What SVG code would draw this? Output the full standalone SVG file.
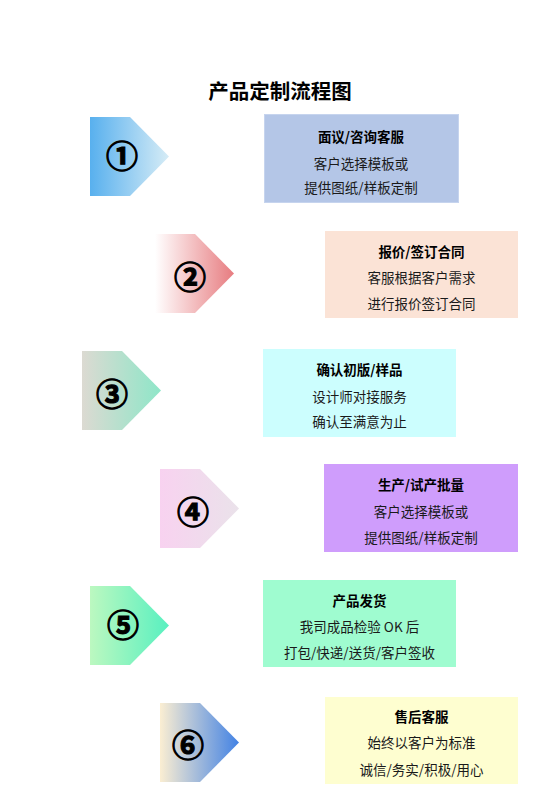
<svg xmlns="http://www.w3.org/2000/svg" width="560" height="792" viewBox="0 0 560 792">
<style>
text{font-family:"Noto Sans CJK SC","Liberation Sans",sans-serif;fill:#1a1a1a;text-anchor:middle}
.title{font-size:20.5px;font-weight:bold;fill:#000}
.h{font-size:13.5px;font-weight:bold;fill:#000}
.t{font-size:13.5px}
.num{font-size:32px;font-weight:bold;fill:#000;stroke:#000;stroke-width:1.1px}
.box{stroke-width:1}
</style>
<defs>
<linearGradient id="g1"><stop offset="0" stop-color="#58b0ee"/><stop offset="1" stop-color="#d6ecf6"/></linearGradient>
<linearGradient id="g2"><stop offset="0" stop-color="#ffffff"/><stop offset="1" stop-color="#e77c80"/></linearGradient>
<linearGradient id="g3"><stop offset="0" stop-color="#dcdad2"/><stop offset="1" stop-color="#8ee6c8"/></linearGradient>
<linearGradient id="g4"><stop offset="0" stop-color="#f8d2f0"/><stop offset="1" stop-color="#eae2ea"/></linearGradient>
<linearGradient id="g5"><stop offset="0" stop-color="#bcf8c0"/><stop offset="1" stop-color="#58f0c0"/></linearGradient>
<linearGradient id="g6"><stop offset="0" stop-color="#fbeed2"/><stop offset="1" stop-color="#4282e4"/></linearGradient>
</defs>
<rect width="560" height="792" fill="#fff"/>
<text class="title" x="280" y="99">产品定制流程图</text>

<g id="step1">
<polygon points="90,117 130,117 169,156.5 130,196 90,196" fill="url(#g1)"/>
<text class="num" x="122" y="167.5">①</text>
<rect class="box" x="264.5" y="114.5" width="194" height="88" fill="#b4c6e7" stroke="#c6d4ee"/>
<text class="h" x="361" y="141.5">面议/咨询客服</text>
<text class="t" x="361" y="168.5">客户选择模板或</text>
<text class="t" x="361" y="192.5">提供图纸/样板定制</text>
</g>

<g id="step2">
<polygon points="155,234 195,234 234,273.5 195,313 155,313" fill="url(#g2)"/>
<text class="num" x="190" y="288.5">②</text>
<rect class="box" x="325" y="231" width="193" height="87" fill="#fbe3d6"/>
<text class="h" x="421.5" y="256.5">报价/签订合同</text>
<text class="t" x="421.5" y="282.5">客服根据客户需求</text>
<text class="t" x="421.5" y="308.5">进行报价签订合同</text>
</g>

<g id="step3">
<polygon points="82,351 122,351 161,390.5 122,430 82,430" fill="url(#g3)"/>
<text class="num" x="112" y="405.5">③</text>
<rect class="box" x="263" y="349" width="193" height="88" fill="#ccfefe"/>
<text class="h" x="359.5" y="374.5">确认初版/样品</text>
<text class="t" x="359.5" y="401.5">设计师对接服务</text>
<text class="t" x="359.5" y="426.5">确认至满意为止</text>
</g>

<g id="step4">
<polygon points="160,469 200,469 239,508.5 200,548 160,548" fill="url(#g4)"/>
<text class="num" x="193" y="523.5">④</text>
<rect class="box" x="324" y="464" width="194" height="88" fill="#cf9dfc"/>
<text class="h" x="421" y="489.5">生产/试产批量</text>
<text class="t" x="421" y="516.5">客户选择模板或</text>
<text class="t" x="421" y="542.5">提供图纸/样板定制</text>
</g>

<g id="step5">
<polygon points="90,586 130,586 169,625.5 130,665 90,665" fill="url(#g5)"/>
<text class="num" x="123" y="636.5">⑤</text>
<rect class="box" x="263" y="580" width="193" height="87" fill="#9ffcd0"/>
<text class="h" x="359.5" y="605.5">产品发货</text>
<text class="t" x="359.5" y="631.5">我司成品检验 OK 后</text>
<text class="t" x="359.5" y="657.5">打包/快递/送货/客户签收</text>
</g>

<g id="step6">
<polygon points="160,703 200,703 239,742.5 200,782 160,782" fill="url(#g6)"/>
<text class="num" x="188" y="756.5">⑥</text>
<rect class="box" x="325" y="697" width="193" height="87" fill="#fefed0"/>
<text class="h" x="421.5" y="721.5">售后客服</text>
<text class="t" x="421.5" y="747.5">始终以客户为标准</text>
<text class="t" x="421.5" y="774.5">诚信/务实/积极/用心</text>
</g>
</svg>
